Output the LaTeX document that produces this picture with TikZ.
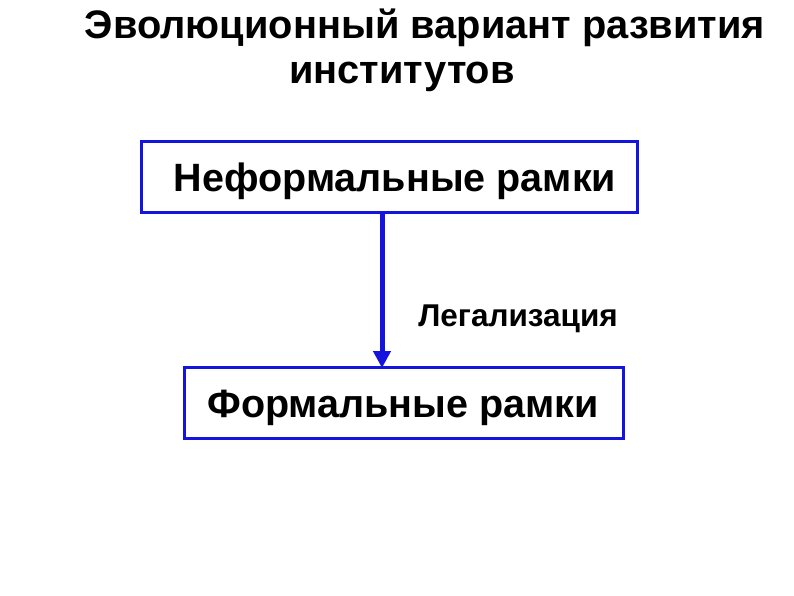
\documentclass[tikz,border=0pt]{standalone}
\usepackage{fontspec}
\setmainfont{Liberation Sans}
\usetikzlibrary{arrows.meta}
\definecolor{frameblue}{RGB}{20,20,220}
\tikzset{
  frame/.style={draw=frameblue, line width=3pt, fill=white, minimum width=#1, minimum height=71pt, inner sep=0pt},
  titletext/.style={font=\bfseries\fontsize{39.8}{44}\selectfont, inner sep=0pt, anchor=base},
  boxtext/.style={font=\bfseries\fontsize{39.5}{44}\selectfont, inner sep=0pt, anchor=base},
  labeltext/.style={font=\bfseries\fontsize{31.5}{34}\selectfont, inner sep=0pt, anchor=base},
  link/.style={draw=frameblue, line width=5pt, -{Triangle[length=17pt,width=17pt]}}
}
\begin{document}
\begin{tikzpicture}[x=1pt,y=-1pt]
\useasboundingbox[fill=white] (0,0) rectangle (794,595);
\node[titletext] (t1) at (425,38) {Эволюционный вариант развития};
\node[titletext] (t2) at (402,83) {институтов};
\node[frame=496pt] (inf) at (389,177) {};
\node[boxtext] (inft) at (395,191) {Неформальные рамки};
\node[frame=439pt] (form) at (403.5,403) {};
\node[boxtext] (formt) at (403,417) {Формальные рамки};
\draw[link] (382,213) -- (382,368);
\node[labeltext] (leg) at (518,326) {Легализация};
\end{tikzpicture}
\end{document}
